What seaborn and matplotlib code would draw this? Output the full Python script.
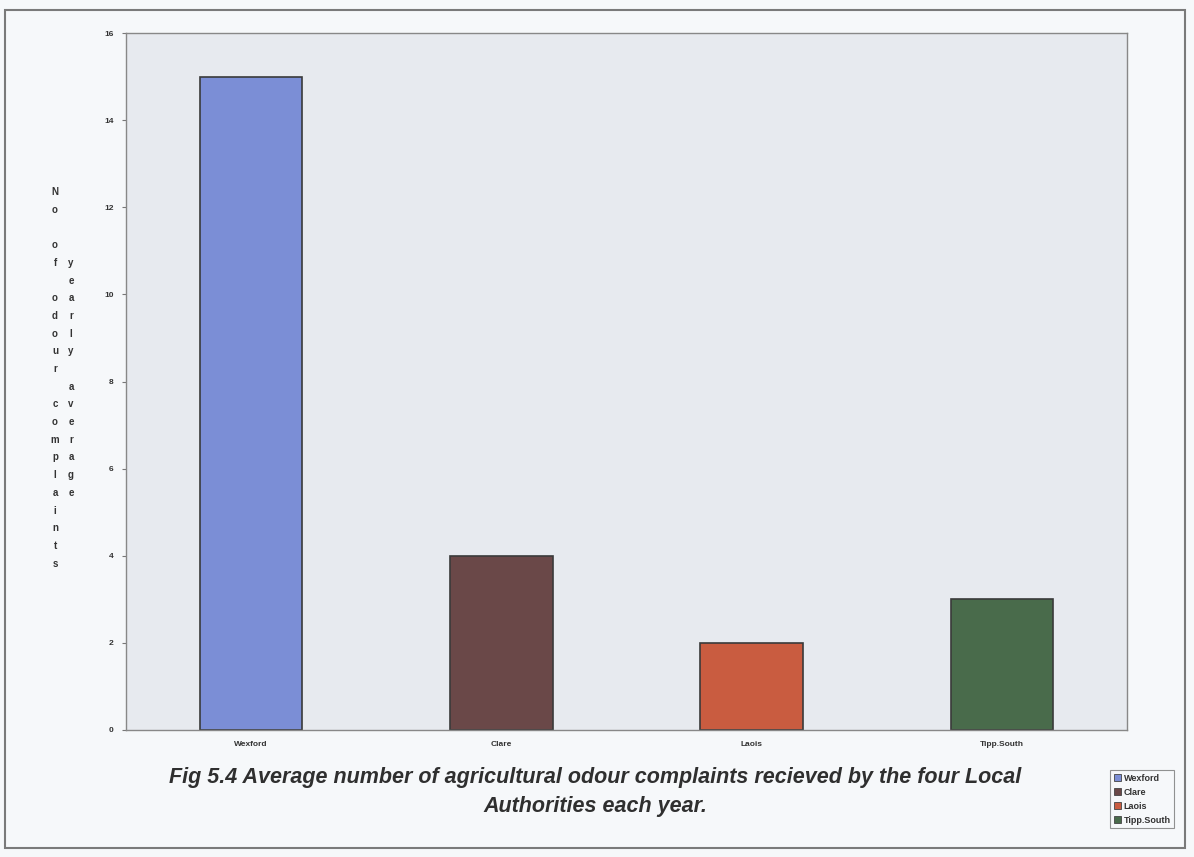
import numpy as np
import pandas as pd
import seaborn as sns
import matplotlib as mpl
from matplotlib import pyplot as plt
from matplotlib.patches import Rectangle

# data
authorities = ['Wexford', 'Clare', 'Laois', 'Tipp.South']
complaints = [15, 4, 2, 3]
bar_colors = ['#7b8ed6', '#6a4848', '#c95c40', '#496b4b']
y_ticks = [0, 2, 4, 6, 8, 10, 12, 14, 16]

title = ('Fig 5.4 Average number of agricultural odour complaints recieved by the four Local\n'
         'Authorities each year.')
ylab_1 = 'No of odour complaints'
ylab_2 = 'yearly average'

df = pd.DataFrame({'Authority': authorities, 'Complaints': complaints})

sns.set_theme(style='white')
plt.rcParams['font.family'] = ['Liberation Sans', 'DejaVu Sans']

W, H = 1194, 857
fig = plt.figure(figsize=(W / 100, H / 100), dpi=100, facecolor='#f6f8fa')
ax = fig.add_axes([126 / W, 1 - 730 / H, (1127 - 126) / W, (730 - 33) / H])
ax.set_facecolor('#e7eaef')

sns.barplot(data=df, x='Authority', y='Complaints', hue='Authority',
            palette=bar_colors, saturation=1, width=0.41, edgecolor='#3a3a3a',
            linewidth=1.2, legend=False, ax=ax)

ax.set_ylim(0, 16)
ax.set_yticks(y_ticks)
ax.set_yticklabels([str(t) for t in y_ticks], fontsize=6, fontweight='bold', color='#333333')
ax.tick_params(axis='x', labelsize=6, length=0, pad=8, labelcolor='#333333')
for lab in ax.get_xticklabels():
    lab.set_fontweight('bold')
ax.tick_params(axis='y', length=3, width=0.8, color='#777777', pad=6, left=True)
ax.set_xlabel('')
ax.set_ylabel('')
for side in ['left', 'bottom', 'top', 'right']:
    ax.spines[side].set_color('#888888')
    ax.spines[side].set_linewidth(1.0)
ax.spines['left'].set_linestyle((0, (2, 1)))
ax.spines['top'].set_linestyle((0, (2, 1)))

# y label written letter by letter in two columns
step = 17.7 / H
for i, ch in enumerate(ylab_1):
    fig.text(55 / W, 1 - 192 / H - i * step, ch, fontsize=7, fontweight='bold',
             color='#333333', ha='center', va='center')
for i, ch in enumerate(ylab_2):
    fig.text(71 / W, 1 - 192 / H - (i + 4) * step, ch, fontsize=7, fontweight='bold',
             color='#333333', ha='center', va='center')

fig.text(595 / W, 1 - 792 / H, title, ha='center', va='center', fontsize=15.5,
         fontweight='bold', style='italic', color='#2f2f2f', linespacing=1.55)

# legend outside the axes, bottom right
handles = [Rectangle((0, 0), 1, 1, facecolor=c, edgecolor='#444444', linewidth=0.6)
           for c in bar_colors]
leg = fig.legend(handles, authorities, loc='lower right',
                 bbox_to_anchor=(1179 / W, 1 - 833 / H), fontsize=6.5,
                 frameon=True, fancybox=False, handlelength=0.8, handleheight=0.8,
                 handletextpad=0.3, labelspacing=0.55, borderpad=0.4)
leg.get_frame().set_edgecolor('#777777')
leg.get_frame().set_linewidth(0.8)
leg.get_frame().set_facecolor('#f6f8fa')
for t in leg.get_texts():
    t.set_fontweight('bold')
    t.set_color('#333333')

# outer frame
fig.patches.append(Rectangle((5 / W, 1 - 848 / H), (1185 - 5) / W, (848 - 10) / H,
                             transform=fig.transFigure, fill=False,
                             edgecolor='#7a7a7a', linewidth=1.5))

fig.savefig('out.png', dpi=100, facecolor=fig.get_facecolor())
